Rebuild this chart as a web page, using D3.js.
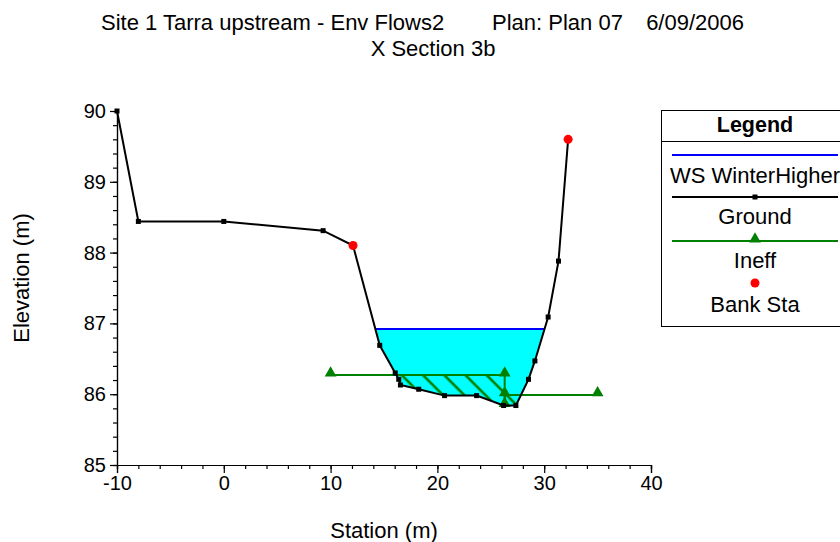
<!DOCTYPE html>
<html>
<head>
<meta charset="utf-8">
<script src="https://cdn.jsdelivr.net/npm/d3@7"></script>
<style>
  html, body { margin: 0; padding: 0; background: #fff; }
  svg { display: block; font-family: Arial, "Liberation Sans", sans-serif; }
</style>
</head>
<body>
<svg id="chart" width="840" height="542"></svg>
<script>
// ---------------- Data ----------------
const groundStation = [-10, -8, 0, 9.3, 12.1, 14.6, 16.05, 16.38, 16.54, 18.25, 20.67, 23.67, 26.2, 27.35, 28.53, 29.13, 30.37, 31.34, 32.24];
const groundElev    = [90.0, 88.44, 88.44, 88.31, 88.10, 86.69, 86.30, 86.21, 86.13, 86.07, 85.98, 85.98, 85.84, 85.84, 86.21, 86.47, 87.09, 87.88, 89.60];
const bankStation = [12.1, 32.24];
const bankElev    = [88.10, 89.60];
const wsElev = 86.92;                 // WS WinterHigher
const ineffLeftStation  = [10, 26.3, 26.3];
const ineffLeftElev     = [86.27, 86.27, 85.84];
const ineffRightStation = [26.3, 26.3, 35];
const ineffRightElev    = [85.84, 85.99, 85.99];
const xMajorTicks = [-10, 0, 10, 20, 30, 40];
const yMajorTicks = [85, 86, 87, 88, 89, 90];
const titleParts = ["Site 1 Tarra upstream - Env Flows2", "Plan: Plan 07", "6/09/2006"];
const subtitle = "X Section 3b";
const legendItems = ["WS WinterHigher", "Ground", "Ineff", "Bank Sta"];

// ---------------- Setup ----------------
const svg = d3.select("#chart");
const x = d3.scaleLinear().domain([-10, 40]).range([117, 651]);
const y = d3.scaleLinear().domain([85, 90]).range([465, 111]);
const GREEN = "#008000";

const ground = groundStation.map((s, i) => [s, groundElev[i]]);
const ineffL = ineffLeftStation.map((s, i) => [s, ineffLeftElev[i]]);
const ineffR = ineffRightStation.map((s, i) => [s, ineffRightElev[i]]);
const line = d3.line().x(d => x(d[0])).y(d => y(d[1]));

// crossings of a level with ground
function crossings(level) {
  const out = [];
  for (let i = 0; i < ground.length - 1; i++) {
    const [s0, e0] = ground[i], [s1, e1] = ground[i + 1];
    if ((e0 - level) * (e1 - level) < 0) {
      const t = (level - e0) / (e1 - e0);
      out.push(s0 + t * (s1 - s0));
    }
  }
  return out;
}

const defs = svg.append("defs");
// region above ground
const abovePts = ground.map(d => [x(d[0]), y(d[1])]);
abovePts.push([x(groundStation[groundStation.length - 1]), 0], [x(groundStation[0]), 0]);
defs.append("clipPath").attr("id", "above")
  .append("path").attr("d", "M" + abovePts.map(p => p.join(",")).join("L") + "Z");

// hatch pattern "\" lines
const hatchSpacing = 15;
const refPt = [423, y(86.27)];
const off = (((refPt[0] - refPt[1]) / Math.SQRT2) % hatchSpacing + hatchSpacing) % hatchSpacing;
const pat = defs.append("pattern").attr("id", "hatch")
  .attr("patternUnits", "userSpaceOnUse")
  .attr("width", hatchSpacing).attr("height", hatchSpacing)
  .attr("patternTransform", "rotate(-45)");
pat.append("line").attr("x1", off).attr("x2", off).attr("y1", -2).attr("y2", hatchSpacing + 2)
  .attr("stroke", GREEN).attr("stroke-width", 2.6);

// ---------------- Water fill ----------------
const wsX = crossings(wsElev);
const wsL = wsX[0], wsR = wsX[wsX.length - 1];
svg.append("rect")
  .attr("clip-path", "url(#above)")
  .attr("x", x(wsL)).attr("y", y(wsElev))
  .attr("width", x(wsR) - x(wsL)).attr("height", y(85) - y(wsElev))
  .attr("fill", "#00FFFF");

// ---------------- Hatching (ineffective areas under WS) ----------------
const g_h = svg.append("g").attr("clip-path", "url(#above)");
g_h.append("rect")
  .attr("x", x(ineffLeftStation[0])).attr("y", y(ineffLeftElev[0]))
  .attr("width", x(ineffLeftStation[1]) - x(ineffLeftStation[0]))
  .attr("height", y(85) - y(ineffLeftElev[0]))
  .attr("fill", "url(#hatch)");
g_h.append("rect")
  .attr("x", x(ineffRightStation[1])).attr("y", y(ineffRightElev[1]))
  .attr("width", x(ineffRightStation[2]) - x(ineffRightStation[1]))
  .attr("height", y(85) - y(ineffRightElev[1]))
  .attr("fill", "url(#hatch)");

// ---------------- WS line ----------------
svg.append("path").attr("d", line([[wsL, wsElev], [wsR, wsElev]]))
  .attr("stroke", "#0000FF").attr("stroke-width", 2).attr("fill", "none");

// ---------------- Ineff lines ----------------
[ineffL, ineffR].forEach(data => {
  svg.append("path").attr("d", line(data))
    .attr("stroke", GREEN).attr("stroke-width", 2).attr("fill", "none");
});
const tri = d3.symbol().type(d3.symbolTriangle).size(60);
svg.append("g").selectAll("path").data(ineffL.concat(ineffR)).join("path")
  .attr("d", tri)
  .attr("transform", d => `translate(${x(d[0])},${y(d[1]) - 2})`)
  .attr("fill", GREEN);

// ---------------- Ground ----------------
svg.append("path").attr("d", line(ground))
  .attr("stroke", "#000").attr("stroke-width", 2).attr("fill", "none");
svg.append("g").selectAll("rect").data(ground).join("rect")
  .attr("x", d => x(d[0]) - 2.5).attr("y", d => y(d[1]) - 2.5)
  .attr("width", 5).attr("height", 5).attr("fill", "#000");

// ---------------- Bank stations ----------------
svg.append("g").selectAll("circle").data(bankStation.map((s, i) => [s, bankElev[i]])).join("circle")
  .attr("cx", d => x(d[0])).attr("cy", d => y(d[1])).attr("r", 4.5).attr("fill", "#FF0000");

// ---------------- Axes ----------------
const fontTick = "20px";
const fmt = d => String(d);
const xAxisMinor = d3.axisBottom(x).tickValues(d3.range(-10, 40.01, 2)).tickSize(4).tickFormat("");
const xAxis = d3.axisBottom(x).tickValues(xMajorTicks).tickSize(8).tickPadding(3).tickFormat(fmt);
const yAxisMinor = d3.axisLeft(y).tickValues(d3.range(85, 90.001, 0.2)).tickSize(4).tickFormat("");
const yAxis = d3.axisLeft(y).tickValues(yMajorTicks).tickSize(7).tickPadding(4).tickFormat(fmt);

function styleAxis(g) {
  g.selectAll("path.domain").attr("stroke", "#000").attr("stroke-width", 1.2);
  g.selectAll(".tick line").attr("stroke", "#000").attr("stroke-width", 1.2);
  g.selectAll(".tick text").attr("fill", "#000").style("font-size", fontTick)
    .style("font-family", "Arial, 'Liberation Sans', sans-serif");
}
svg.append("g").attr("transform", `translate(0,${y(85)})`).call(xAxisMinor).call(styleAxis);
svg.append("g").attr("transform", `translate(0,${y(85)})`).call(xAxis).call(styleAxis);
svg.append("g").attr("transform", `translate(${x(-10)},0)`).call(yAxisMinor).call(styleAxis);
svg.append("g").attr("transform", `translate(${x(-10)},0)`).call(yAxis).call(styleAxis);

// axis titles
svg.append("text").attr("x", (x(-10) + x(40)) / 2).attr("y", 538)
  .attr("text-anchor", "middle").style("font-size", "22px").text("Station (m)");
svg.append("text").attr("transform", "translate(29,278) rotate(-90)")
  .attr("text-anchor", "middle").style("font-size", "22px").text("Elevation (m)");

// ---------------- Title ----------------
svg.append("text").attr("x", 101).attr("y", 30).style("font-size", "22px").text(titleParts[0]);
svg.append("text").attr("x", 492).attr("y", 30).style("font-size", "22px").text(titleParts[1]);
svg.append("text").attr("x", 744).attr("y", 30).attr("text-anchor", "end").style("font-size", "22px").text(titleParts[2]);
svg.append("text").attr("x", 433).attr("y", 56).attr("text-anchor", "middle").style("font-size", "22px").text(subtitle);

// ---------------- Legend ----------------
const lg = svg.append("g");
const lcx = 755;
lg.append("rect").attr("x", 661.5).attr("y", 110.5).attr("width", 200).attr("height", 216)
  .attr("fill", "#fff").attr("stroke", "#000").attr("stroke-width", 1);
lg.append("line").attr("x1", 661.5).attr("x2", 862).attr("y1", 141.5).attr("y2", 141.5)
  .attr("stroke", "#000").attr("stroke-width", 1);
lg.append("text").attr("x", lcx).attr("y", 132).attr("text-anchor", "middle")
  .style("font-size", "21.5px").style("font-weight", "bold").text("Legend");
const lineY = [155, 197, 241, 283];
const textY = [183, 224, 268, 312];
const lx0 = 672, lx1 = 838;
lg.append("line").attr("x1", lx0).attr("x2", lx1).attr("y1", lineY[0]).attr("y2", lineY[0])
  .attr("stroke", "#0000FF").attr("stroke-width", 2);
lg.append("line").attr("x1", lx0).attr("x2", lx1).attr("y1", lineY[1]).attr("y2", lineY[1])
  .attr("stroke", "#000").attr("stroke-width", 2);
lg.append("rect").attr("x", lcx - 2.5).attr("y", lineY[1] - 2.5).attr("width", 5).attr("height", 5).attr("fill", "#000");
lg.append("line").attr("x1", lx0).attr("x2", lx1).attr("y1", lineY[2]).attr("y2", lineY[2])
  .attr("stroke", GREEN).attr("stroke-width", 2);
lg.append("path").attr("d", tri).attr("transform", `translate(${lcx},${lineY[2] - 2})`).attr("fill", GREEN);
lg.append("circle").attr("cx", lcx).attr("cy", lineY[3]).attr("r", 4.5).attr("fill", "#FF0000");
legendItems.forEach((t, i) => {
  lg.append("text").attr("x", lcx).attr("y", textY[i]).attr("text-anchor", "middle")
    .style("font-size", "22px").text(t);
});
</script>
</body>
</html>
